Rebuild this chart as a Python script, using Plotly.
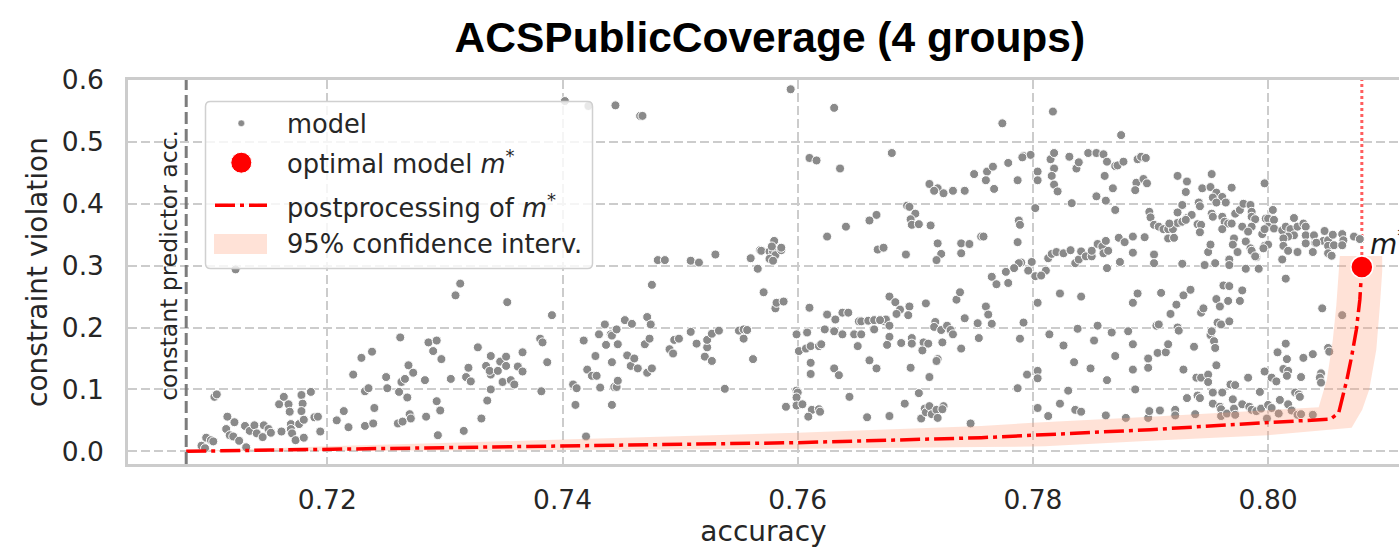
import plotly.graph_objects as go

# ---------------------------------------------------------------- data
# Individual trained models: (accuracy, constraint violation)
models_top_left = [(0.7122, 0.294)]

models_top_mid = [
    (0.7402, 0.566), (0.7422, 0.558), (0.7445, 0.559), (0.7466, 0.542), (0.7468, 0.542),
    (0.7594, 0.585), (0.7631, 0.555), (0.7610, 0.474), (0.7616, 0.470), (0.7636, 0.457),
    (0.7680, 0.482), (0.7750, 0.448), (0.7712, 0.432), (0.7719, 0.425), (0.7716, 0.421),
    (0.7724, 0.417), (0.7732, 0.421), (0.7742, 0.421), (0.7693, 0.397), (0.7695, 0.395),
    (0.7700, 0.384), (0.7696, 0.375), (0.7697, 0.366), (0.7703, 0.367), (0.7713, 0.365),
    (0.7667, 0.382), (0.7661, 0.373), (0.7641, 0.363), (0.7625, 0.347), (0.7668, 0.326),
    (0.7673, 0.329), (0.7692, 0.318), (0.7719, 0.336), (0.7722, 0.319), (0.7718, 0.309),
    (0.7739, 0.336), (0.7739, 0.320), (0.7746, 0.335), (0.7756, 0.347), (0.7481, 0.309),
    (0.7487, 0.309), (0.7509, 0.308), (0.7516, 0.305), (0.7530, 0.318), (0.7560, 0.312),
    (0.7566, 0.295), (0.7568, 0.325), (0.7569, 0.324), (0.7576, 0.323), (0.7579, 0.323),
    (0.7580, 0.340), (0.7581, 0.317), (0.7586, 0.325), (0.7586, 0.329), (0.7576, 0.311),
    (0.7579, 0.308), (0.7578, 0.331),
]

models_top_right = [
    (0.7774, 0.530), (0.7817, 0.549), (0.7875, 0.511), (0.7761, 0.452), (0.7766, 0.460),
    (0.7760, 0.438), (0.7767, 0.424), (0.7779, 0.466), (0.7787, 0.438), (0.7792, 0.477),
    (0.7798, 0.479), (0.7791, 0.475), (0.7804, 0.452), (0.7804, 0.438), (0.7802, 0.393),
    (0.7758, 0.347), (0.7788, 0.373), (0.7789, 0.366), (0.7787, 0.338), (0.7815, 0.472),
    (0.7818, 0.482), (0.7818, 0.457), (0.7816, 0.445), (0.7818, 0.431), (0.7821, 0.420),
    (0.7831, 0.476), (0.7837, 0.457), (0.7839, 0.467), (0.7847, 0.482), (0.7854, 0.482),
    (0.7860, 0.480), (0.7863, 0.468), (0.7861, 0.445), (0.7854, 0.412), (0.7862, 0.405),
    (0.7833, 0.401), (0.7868, 0.425), (0.7870, 0.390), (0.7870, 0.461), (0.7872, 0.462),
    (0.7877, 0.468), (0.7889, 0.472), (0.7892, 0.476), (0.7896, 0.474), (0.7888, 0.434),
    (0.7887, 0.422), (0.7894, 0.440), (0.7897, 0.433), (0.7923, 0.445), (0.7931, 0.436),
    (0.7930, 0.419), (0.7944, 0.425), (0.7951, 0.427), (0.7952, 0.448), (0.7956, 0.418),
    (0.7953, 0.410), (0.7961, 0.411), (0.7964, 0.402), (0.7956, 0.402), (0.7969, 0.426),
    (0.7997, 0.433),
    (0.7941, 0.402), (0.7942, 0.396), (0.7927, 0.398), (0.7923, 0.386), (0.7931, 0.377),
    (0.7935, 0.382), (0.7899, 0.387), (0.7900, 0.378),
    (0.7903, 0.366), (0.7907, 0.363), (0.7911, 0.359), (0.7915, 0.359), (0.7919, 0.359),
    (0.7923, 0.369), (0.7916, 0.368), (0.7927, 0.371), (0.7930, 0.374),
    (0.7915, 0.344), (0.7920, 0.345),
    (0.7940, 0.367), (0.7943, 0.366), (0.7942, 0.354), (0.7952, 0.384), (0.7953, 0.379),
    (0.7961, 0.379), (0.7963, 0.371), (0.7966, 0.368), (0.7961, 0.359), (0.7969, 0.368),
    (0.7972, 0.384), (0.7976, 0.390), (0.7979, 0.400), (0.7985, 0.398), (0.7986, 0.387),
    (0.7986, 0.379), (0.7989, 0.375), (0.7978, 0.363), (0.7986, 0.363), (0.7983, 0.355),
    (0.7998, 0.376), (0.8000, 0.376), (0.8004, 0.390), (0.8005, 0.374), (0.8000, 0.363),
    (0.8005, 0.360), (0.7995, 0.351), (0.7997, 0.359),
    (0.8012, 0.357), (0.8015, 0.363), (0.8019, 0.359), (0.8022, 0.377), (0.8025, 0.363),
    (0.8030, 0.368), (0.8032, 0.363), (0.8022, 0.349), (0.8017, 0.347), (0.8013, 0.344),
    (0.8032, 0.349), (0.8032, 0.336),
    (0.8039, 0.349), (0.8040, 0.337), (0.8047, 0.340), (0.8048, 0.356), (0.8051, 0.341),
    (0.8055, 0.350), (0.8051, 0.332), (0.8056, 0.333), (0.8063, 0.351), (0.8064, 0.341),
    (0.8063, 0.333), (0.8073, 0.347), (0.8078, 0.343),
    (0.8051, 0.320), (0.8054, 0.316),
    (0.7790, 0.305), (0.7788, 0.304), (0.7799, 0.306), (0.7784, 0.296), (0.7777, 0.290),
    (0.7796, 0.292), (0.7811, 0.292),
    (0.7813, 0.312), (0.7816, 0.319), (0.7820, 0.322), (0.7826, 0.320), (0.7832, 0.325),
    (0.7836, 0.304), (0.7839, 0.310), (0.7841, 0.323), (0.7845, 0.315), (0.7850, 0.315),
    (0.7850, 0.324), (0.7855, 0.335), (0.7859, 0.331), (0.7860, 0.320), (0.7862, 0.340),
    (0.7864, 0.324), (0.7863, 0.296),
    (0.7873, 0.345), (0.7878, 0.338), (0.7885, 0.347), (0.7895, 0.346), (0.7885, 0.321),
    (0.7874, 0.306), (0.7903, 0.318), (0.7903, 0.304), (0.7927, 0.303), (0.7946, 0.301),
    (0.7955, 0.304),
    (0.7949, 0.322), (0.7951, 0.334), (0.7967, 0.310), (0.7967, 0.301), (0.7971, 0.344),
    (0.7970, 0.334), (0.7974, 0.322), (0.7981, 0.339), (0.7985, 0.328), (0.7986, 0.324),
    (0.7990, 0.314), (0.7989, 0.315), (0.7992, 0.295), (0.7981, 0.295), (0.7997, 0.332),
    (0.8000, 0.334), (0.7996, 0.328), (0.8012, 0.310), (0.8013, 0.332), (0.8017, 0.324),
    (0.8025, 0.322), (0.8038, 0.322), (0.8041, 0.337),
]

models_bottom_left = [
    (0.7104, 0.088), (0.7106, 0.092),
    (0.7093, 0.009), (0.7097, 0.022), (0.7101, 0.018), (0.7103, 0.016), (0.7096, 0.005),
    (0.7115, 0.056), (0.7121, 0.047), (0.7114, 0.036), (0.7117, 0.026), (0.7120, 0.024),
    (0.7125, 0.017), (0.7131, 0.0065), (0.7130, 0.041), (0.7134, 0.033), (0.7138, 0.042),
    (0.7140, 0.029), (0.7145, 0.023), (0.7146, 0.042), (0.7150, 0.036), (0.7152, 0.030),
    (0.7161, 0.032), (0.7159, 0.076), (0.7163, 0.088), (0.7167, 0.076), (0.7168, 0.064),
    (0.7169, 0.044), (0.7169, 0.036), (0.7170, 0.029), (0.7173, 0.018), (0.7176, 0.044),
    (0.7178, 0.091), (0.7179, 0.077), (0.7178, 0.065), (0.7180, 0.051), (0.7180, 0.022),
    (0.7186, 0.096), (0.7189, 0.055), (0.7192, 0.056), (0.7194, 0.032),
    (0.7208, 0.050), (0.7214, 0.065), (0.7218, 0.039), (0.7222, 0.124), (0.7229, 0.151),
    (0.7232, 0.097), (0.7235, 0.102), (0.7238, 0.161), (0.7232, 0.041), (0.7239, 0.045),
    (0.7240, 0.070), (0.7250, 0.120), (0.7251, 0.102), (0.7262, 0.184), (0.7261, 0.096),
    (0.7263, 0.112), (0.7266, 0.117), (0.7269, 0.139), (0.7273, 0.127), (0.7268, 0.087),
    (0.7270, 0.060), (0.7271, 0.053), (0.7260, 0.045), (0.7264, 0.048), (0.7283, 0.115),
    (0.7284, 0.056), (0.7286, 0.176), (0.7290, 0.162), (0.7293, 0.179), (0.7297, 0.149),
    (0.7293, 0.081), (0.7296, 0.066), (0.7294, 0.026), (0.7305, 0.117), (0.7309, 0.252),
    (0.7313, 0.271), (0.7316, 0.033), (0.7318, 0.120), (0.7320, 0.135), (0.7322, 0.113),
    (0.7328, 0.168), (0.7331, 0.053), (0.7335, 0.138), (0.7336, 0.082), (0.7339, 0.100),
    (0.7339, 0.154), (0.7339, 0.124), (0.7338, 0.130), (0.7345, 0.130), (0.7347, 0.145),
    (0.7352, 0.153), (0.7352, 0.138), (0.7349, 0.112), (0.7356, 0.115), (0.7359, 0.108),
    (0.7362, 0.137), (0.7366, 0.129), (0.7366, 0.160), (0.7353, 0.241), (0.7381, 0.182),
    (0.7383, 0.176), (0.7387, 0.144), (0.7382, 0.097), (0.7391, 0.220),
]

models_bottom_mid = [
    (0.7476, 0.269), (0.7571, 0.257), (0.7581, 0.231), (0.7582, 0.240), (0.7588, 0.242),
    (0.7610, 0.232),
    (0.7418, 0.179), (0.7421, 0.132), (0.7428, 0.154), (0.7425, 0.122), (0.7429, 0.122),
    (0.7432, 0.103), (0.7409, 0.108), (0.7412, 0.102), (0.7411, 0.075), (0.7420, 0.024),
    (0.7431, 0.189), (0.7436, 0.205), (0.7437, 0.172), (0.7441, 0.189), (0.7442, 0.144),
    (0.7442, 0.187), (0.7446, 0.197), (0.7447, 0.173), (0.7444, 0.104), (0.7446, 0.104),
    (0.7447, 0.114), (0.7442, 0.075), (0.7453, 0.212), (0.7455, 0.155), (0.7458, 0.138),
    (0.7459, 0.206), (0.7461, 0.150), (0.7464, 0.134), (0.7470, 0.173), (0.7472, 0.217),
    (0.7474, 0.182), (0.7475, 0.205), (0.7472, 0.127), (0.7476, 0.134),
    (0.7491, 0.165), (0.7494, 0.158), (0.7495, 0.180), (0.7499, 0.182), (0.7509, 0.193),
    (0.7514, 0.174), (0.7521, 0.153), (0.7523, 0.168), (0.7523, 0.180), (0.7527, 0.190),
    (0.7527, 0.146), (0.7533, 0.195), (0.7538, 0.101), (0.7550, 0.195), (0.7554, 0.197),
    (0.7557, 0.196), (0.7554, 0.182), (0.7562, 0.149),
    (0.7599, 0.189), (0.7608, 0.192), (0.7601, 0.162), (0.7607, 0.166), (0.7611, 0.170),
    (0.7618, 0.170), (0.7620, 0.173), (0.7623, 0.197), (0.7625, 0.221), (0.7631, 0.194),
    (0.7632, 0.213), (0.7638, 0.224), (0.7643, 0.224), (0.7638, 0.189), (0.7648, 0.189),
    (0.7652, 0.210), (0.7654, 0.210), (0.7660, 0.211), (0.7665, 0.212), (0.7674, 0.210),
    (0.7675, 0.213), (0.7670, 0.212), (0.7654, 0.189), (0.7665, 0.197), (0.7678, 0.250),
    (0.7683, 0.241), (0.7687, 0.229), (0.7684, 0.222), (0.7695, 0.234), (0.7694, 0.220),
    (0.7678, 0.203), (0.7678, 0.185), (0.7676, 0.172), (0.7688, 0.175), (0.7697, 0.183),
    (0.7697, 0.174), (0.7707, 0.176), (0.7711, 0.174), (0.7706, 0.163), (0.7709, 0.239),
    (0.7717, 0.209), (0.7716, 0.201), (0.7722, 0.196), (0.7727, 0.203), (0.7730, 0.196),
    (0.7732, 0.189), (0.7723, 0.176), (0.7735, 0.245), (0.7738, 0.257), (0.7742, 0.215),
    (0.7739, 0.166), (0.7753, 0.207), (0.7754, 0.183), (0.7719, 0.149), (0.7718, 0.146),
    (0.7712, 0.120), (0.7696, 0.135), (0.7667, 0.134), (0.7661, 0.147), (0.7651, 0.170),
    (0.7631, 0.134), (0.7635, 0.123), (0.7611, 0.143), (0.7611, 0.125), (0.7599, 0.098),
    (0.7600, 0.095), (0.7599, 0.087), (0.7590, 0.072), (0.7599, 0.074), (0.7604, 0.076),
    (0.7612, 0.067), (0.7609, 0.056), (0.7618, 0.068), (0.7619, 0.064), (0.7644, 0.088),
    (0.7659, 0.055), (0.7678, 0.057), (0.7691, 0.077), (0.7703, 0.094), (0.7705, 0.053),
    (0.7708, 0.069), (0.7709, 0.063), (0.7712, 0.073), (0.7714, 0.060), (0.7718, 0.067),
    (0.7719, 0.054), (0.7724, 0.073), (0.7723, 0.068), (0.7747, 0.045),
]

models_bottom_right = [
    (0.7765, 0.282), (0.7769, 0.270), (0.7779, 0.272), (0.7802, 0.283), (0.7807, 0.284),
    (0.8015, 0.279),
    (0.7760, 0.234), (0.7762, 0.221), (0.7765, 0.206), (0.7789, 0.182), (0.7792, 0.208),
    (0.7787, 0.102), (0.7795, 0.124), (0.7804, 0.130), (0.7804, 0.118), (0.7804, 0.240),
    (0.7804, 0.070), (0.7813, 0.057), (0.7814, 0.189), (0.7823, 0.255), (0.7823, 0.077),
    (0.7826, 0.171), (0.7830, 0.098), (0.7835, 0.144), (0.7836, 0.067), (0.7841, 0.064),
    (0.7838, 0.198), (0.7841, 0.250), (0.7849, 0.134), (0.7852, 0.179), (0.7855, 0.203),
    (0.7862, 0.058), (0.7863, 0.115), (0.7867, 0.192), (0.7870, 0.154), (0.7881, 0.194),
    (0.7885, 0.173), (0.7885, 0.132), (0.7887, 0.100), (0.7885, 0.240), (0.7889, 0.255),
    (0.7879, 0.054), (0.7898, 0.054), (0.7899, 0.065), (0.7898, 0.135), (0.7898, 0.150),
    (0.7906, 0.159), (0.7913, 0.160), (0.7908, 0.066), (0.7905, 0.203), (0.7907, 0.205),
    (0.7909, 0.256), (0.7915, 0.173), (0.7917, 0.222), (0.7921, 0.067), (0.7921, 0.058),
    (0.7922, 0.237), (0.7923, 0.200), (0.7924, 0.195), (0.7928, 0.252), (0.7934, 0.261),
    (0.7928, 0.132), (0.7931, 0.086), (0.7937, 0.169), (0.7939, 0.119), (0.7943, 0.119),
    (0.7938, 0.060), (0.7940, 0.090), (0.7942, 0.086), (0.7943, 0.224), (0.7945, 0.231),
    (0.7949, 0.124), (0.7949, 0.112), (0.7953, 0.095), (0.7953, 0.077), (0.7951, 0.188),
    (0.7952, 0.194), (0.7954, 0.178), (0.7955, 0.167), (0.7956, 0.139), (0.7956, 0.246),
    (0.7959, 0.234), (0.7957, 0.208), (0.7960, 0.205), (0.7959, 0.072), (0.7960, 0.068),
    (0.7960, 0.057), (0.7961, 0.095), (0.7962, 0.268), (0.7967, 0.267), (0.7966, 0.243),
    (0.7976, 0.243), (0.7978, 0.260), (0.7967, 0.210), (0.7965, 0.061), (0.7968, 0.108),
    (0.7972, 0.107), (0.7970, 0.084), (0.7971, 0.069), (0.7972, 0.059), (0.7978, 0.076),
    (0.7983, 0.119), (0.7984, 0.072), (0.7986, 0.067), (0.7990, 0.065), (0.7993, 0.096),
    (0.7994, 0.069), (0.7997, 0.129), (0.7999, 0.053), (0.8000, 0.075), (0.8003, 0.070),
    (0.8003, 0.119), (0.8007, 0.113), (0.8008, 0.160), (0.8010, 0.083), (0.8009, 0.061),
    (0.8013, 0.133), (0.8015, 0.174), (0.8016, 0.149), (0.8017, 0.076), (0.8017, 0.130),
    (0.8016, 0.122), (0.8020, 0.066), (0.8023, 0.095), (0.8025, 0.059), (0.8026, 0.092),
    (0.8027, 0.088), (0.8028, 0.120), (0.8030, 0.151), (0.8028, 0.060), (0.8038, 0.059),
    (0.8038, 0.157), (0.8045, 0.126), (0.8044, 0.119), (0.8045, 0.111), (0.8046, 0.231),
    (0.8051, 0.167), (0.8052, 0.161), (0.8063, 0.220),
]

all_models = (models_top_left + models_top_mid + models_top_right
              + models_bottom_left + models_bottom_mid + models_bottom_right)
model_acc = [a for a, _ in all_models]
model_viol = [v for _, v in all_models]

# Best model and the constant-predictor baseline
opt_acc, opt_viol = 0.80797, 0.298
const_acc = 0.708

# Postprocessing trade-off curve of the best model
post_acc = [0.7080, 0.7200, 0.7400, 0.7600, 0.7756, 0.7900, 0.8000, 0.8053,
            0.8060, 0.8063, 0.8067, 0.8071, 0.8075, 0.8078, 0.8079, 0.80797]
post_viol = [0.000, 0.003, 0.009, 0.014, 0.022, 0.035, 0.0465, 0.052,
             0.062, 0.083, 0.116, 0.153, 0.196, 0.245, 0.274, 0.298]

# 95% confidence region around the curve (closed outline)
ci_acc = [0.708, 0.72, 0.74, 0.76, 0.7756, 0.78, 0.79, 0.80, 0.8043, 0.8050, 0.8055,
          0.8058, 0.8061, 0.8097, 0.8097, 0.8095, 0.8092, 0.8086, 0.8080, 0.8071,
          0.80, 0.79, 0.781, 0.7757, 0.76, 0.74, 0.72, 0.708]
ci_viol = [0.0, 0.008, 0.019, 0.030, 0.041, 0.046, 0.056, 0.066, 0.071, 0.116, 0.180,
           0.236, 0.3156, 0.3156, 0.29, 0.234, 0.164, 0.10, 0.067, 0.038,
           0.026, 0.017, 0.008, 0.007, 0.004, 0.002, 0.0005, 0.0]

x_ticks = [0.72, 0.74, 0.76, 0.78, 0.80]
y_ticks = [0.0, 0.1, 0.2, 0.3, 0.4, 0.5, 0.6]

legend_labels = ["model", "optimal model <i>m</i><sup>*</sup>",
                 "postprocessing of <i>m</i><sup>*</sup>", "95% confidence interv."]

# ---------------------------------------------------------------- style
W, H = 1399, 549
ML, MR, MT, MB = 128, 0, 80, 85
PW, PH = W - ML - MR, H - MT - MB

TEXT = "#262626"
GRID = "#cccccc"
DOT_GREY = "#8a8a8a"
BAND = "rgba(255,160,122,0.30)"
DASHDOT = "20px,5px,4px,5px"
FONT = "DejaVu Sans"


def fx(px):
    """figure pixel column -> paper x"""
    return (px - ML) / PW


def fy(py):
    """figure pixel row -> paper y"""
    return (H - MB - py) / PH


fig = go.Figure()

fig.add_trace(go.Scatter(
    x=model_acc, y=model_viol, mode="markers", name=legend_labels[0],
    marker=dict(size=9, color=DOT_GREY, line=dict(color="white", width=1)),
    showlegend=False, hoverinfo="skip"))

fig.add_trace(go.Scatter(
    x=ci_acc, y=ci_viol, mode="lines", fill="toself", fillcolor=BAND,
    line=dict(width=0), name=legend_labels[3], showlegend=False, hoverinfo="skip"))

fig.add_trace(go.Scatter(
    x=post_acc, y=post_viol, mode="lines", name=legend_labels[2],
    line=dict(color="red", width=3.5, dash=DASHDOT), showlegend=False, hoverinfo="skip"))

fig.add_trace(go.Scatter(
    x=[opt_acc], y=[opt_viol], mode="markers", name=legend_labels[1],
    marker=dict(size=22, color="red", line=dict(color="white", width=1.5)),
    showlegend=False, hoverinfo="skip"))

shapes = [
    # constant predictor accuracy
    dict(type="line", xref="x", yref="paper", x0=const_acc, x1=const_acc, y0=0, y1=1,
         line=dict(color="rgba(110,110,110,0.9)", width=3, dash="12px,5px"), layer="above"),
    # vertical marker above the optimal model
    dict(type="line", xref="x", yref="y", x0=opt_acc, x1=opt_acc, y0=opt_viol, y1=0.6,
         line=dict(color="rgba(255,40,40,0.75)", width=3, dash="dot"), layer="between"),
]

# legend frame with rounded corners
x0, x1, y0, y1 = fx(205.5), fx(592.5), fy(268.5), fy(101.5)
rx, ry = 5 / PW, 5 / PH
frame = (f"M {x0+rx},{y1} L {x1-rx},{y1} Q {x1},{y1} {x1},{y1-ry} "
         f"L {x1},{y0+ry} Q {x1},{y0} {x1-rx},{y0} L {x0+rx},{y0} "
         f"Q {x0},{y0} {x0},{y0+ry} L {x0},{y1-ry} Q {x0},{y1} {x0+rx},{y1} Z")
shapes.append(dict(type="path", xref="paper", yref="paper", path=frame,
                   fillcolor="rgba(255,255,255,0.8)", line=dict(color="#d0d0d0", width=1.5),
                   layer="above"))
# legend keys
shapes += [
    dict(type="circle", xref="paper", yref="paper",
         x0=fx(241.3 - 3.3), x1=fx(241.3 + 3.3), y0=fy(123.3 + 3.3), y1=fy(123.3 - 3.3),
         fillcolor=DOT_GREY, line=dict(color="white", width=0.5), layer="above"),
    dict(type="circle", xref="paper", yref="paper",
         x0=fx(241.3 - 10.5), x1=fx(241.3 + 10.5), y0=fy(162.7 + 10.5), y1=fy(162.7 - 10.5),
         fillcolor="red", line=dict(color="white", width=1), layer="above"),
    dict(type="line", xref="paper", yref="paper",
         x0=fx(215), x1=fx(267), y0=fy(205.3), y1=fy(205.3),
         line=dict(color="red", width=3.5, dash=DASHDOT), layer="above"),
    dict(type="rect", xref="paper", yref="paper",
         x0=fx(214), x1=fx(267), y0=fy(254), y1=fy(234),
         fillcolor=BAND, line=dict(width=0), layer="above"),
]

annotations = []
for label, cy in zip(legend_labels, [123.5, 162.0, 206.0, 243.5]):
    annotations.append(dict(
        text=label, xref="paper", yref="paper", x=fx(285), y=fy(cy),
        xanchor="left", yanchor="middle", showarrow=False,
        font=dict(family=FONT, size=25.7, color=TEXT)))

annotations.append(dict(
    text="constant predictor acc.", xref="x", yref="y", x=const_acc, y=0.3,
    xanchor="right", yanchor="middle", xshift=-2, textangle=-90, showarrow=False,
    font=dict(family=FONT, size=23.5, color=TEXT)))

annotations.append(dict(
    text="<i>m</i><sup>*</sup>", xref="x", yref="y", x=opt_acc, y=opt_viol,
    xanchor="left", yanchor="bottom", xshift=6, yshift=4, showarrow=False,
    font=dict(family=FONT, size=28, color="#1a1a1a")))

axis_common = dict(
    showgrid=True, gridcolor=GRID, gridwidth=1.6, griddash="9px,4px",
    zeroline=False, showline=True, linecolor=GRID, linewidth=2.5,
    ticks="", tickfont=dict(family=FONT, size=26.5, color=TEXT),
    automargin=False)

fig.update_layout(
    width=W, height=H,
    margin=dict(l=ML, r=MR, t=MT, b=MB, pad=0),
    paper_bgcolor="white", plot_bgcolor="white",
    showlegend=False,
    title=dict(text="<b>ACSPublicCoverage (4 groups)</b>",
               font=dict(family="Liberation Sans, Arial", size=42.5, color="black"),
               xref="paper", x=0.505, xanchor="center",
               yref="container", y=1 - 37 / H, yanchor="middle"),
    xaxis=dict(range=[0.70305, 0.81113], tickvals=x_ticks,
               ticktext=[f"{t:.2f}" for t in x_ticks], mirror=True,
               ticklabelstandoff=10,
               title=dict(text="accuracy", standoff=4,
                          font=dict(family=FONT, size=28, color=TEXT)),
               **axis_common),
    yaxis=dict(range=[-0.0205, 0.6], tickvals=y_ticks,
               ticktext=[f"{t:.1f}" for t in y_ticks], mirror=False,
               ticklabelstandoff=16,
               title=dict(text="constraint violation", standoff=6,
                          font=dict(family=FONT, size=28, color=TEXT)),
               **axis_common),
    shapes=shapes,
    annotations=annotations,
)

fig.write_html("out.html")
